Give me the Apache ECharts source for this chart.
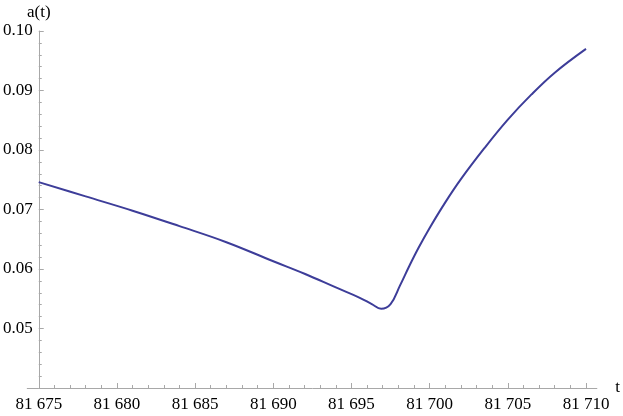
<!DOCTYPE html>
<html>
<head>
<meta charset="utf-8">
<script src="https://cdn.jsdelivr.net/npm/echarts@6/dist/echarts.min.js"></script>
<style>
  html, body { margin: 0; padding: 0; background: #fff; }
  #main { width: 623px; height: 416px; }
</style>
</head>
<body>
<div id="main"></div>
<script>
// t values and a(t)
var tValues = [81675, 81678, 81681, 81684, 81687, 81690, 81692, 81694, 81695.5, 81696.3,
               81696.9, 81697.5, 81698.1, 81698.7, 81699.3, 81700, 81701, 81702, 81703.5,
               81705, 81706.5, 81708, 81710];
var aValues = [0.0746, 0.0722, 0.0698, 0.0672, 0.0645, 0.0613, 0.0592, 0.0569, 0.0552, 0.0541,
               0.0533, 0.0541, 0.0572, 0.0605, 0.0636, 0.0669, 0.0712, 0.0751, 0.0803,
               0.0851, 0.0893, 0.0930, 0.0970];

var xRange = [81675, 81710];
var yRange = [0.04, 0.10];
var axisStub = [81674.24, 81710.72]; // axis line runs a bit past the ticks

var axisGray = '#a8a8a8';
var font = "'Liberation Serif', 'DejaVu Serif', serif";

var chart = echarts.init(document.getElementById('main'));

var points = [];
for (var i = 0; i < tValues.length; i++) {
    points.push([tValues[i], aValues[i]]);
}

function groupDigits(v) {
    return String(v).replace(/(\d+)(\d{3})$/, '$1 $2');
}

var option = {
    animation: false,
    textStyle: { fontFamily: font },
    grid: { left: 38, right: 31, top: 31, bottom: 28 },
    xAxis: {
        type: 'value',
        min: xRange[0],
        max: xRange[1],
        interval: 5,
        name: 't',
        nameLocation: 'end',
        nameGap: 24,
        nameTextStyle: { fontFamily: font, fontSize: 17, color: '#000', padding: [6, 0, 0, 0] },
        axisLine: { onZero: false, lineStyle: { color: axisGray, width: 1 } },
        axisTick: { inside: true, length: 5, lineStyle: { color: axisGray } },
        minorTick: { show: true, splitNumber: 5, length: 3, lineStyle: { color: axisGray } },
        splitLine: { show: false },
        axisLabel: { fontFamily: font, fontSize: 17, color: '#000', margin: 8, formatter: groupDigits }
    },
    yAxis: {
        type: 'value',
        min: yRange[0],
        max: yRange[1],
        interval: 0.01,
        name: 'a(t)',
        nameLocation: 'end',
        nameGap: 10,
        nameTextStyle: { fontFamily: font, fontSize: 17, color: '#000', align: 'center' },
        axisLine: { show: true, onZero: false, lineStyle: { color: axisGray, width: 1 } },
        axisTick: { show: true, inside: true, length: 5, lineStyle: { color: axisGray } },
        minorTick: { show: true, splitNumber: 5, length: 3, lineStyle: { color: axisGray } },
        splitLine: { show: false },
        axisLabel: {
            fontFamily: font, fontSize: 17, color: '#000', margin: 6, showMinLabel: false,
            formatter: function (v) { return v.toFixed(2); }
        }
    },
    series: [{
        type: 'line',
        data: points,
        showSymbol: false,
        smooth: 0.4,
        lineStyle: { color: '#3d3d99', width: 2 }
    }]
};
chart.setOption(option);

// extend the x axis line past the tick range, as in the original
var p0 = chart.convertToPixel({ gridIndex: 0 }, [axisStub[0], yRange[0]]);
var p1 = chart.convertToPixel({ gridIndex: 0 }, [xRange[0], yRange[0]]);
var p2 = chart.convertToPixel({ gridIndex: 0 }, [xRange[1], yRange[0]]);
var p3 = chart.convertToPixel({ gridIndex: 0 }, [axisStub[1], yRange[0]]);
chart.setOption({
    graphic: [
        { type: 'line', shape: { x1: p0[0], y1: p0[1] + 0.5, x2: p1[0], y2: p1[1] + 0.5 }, style: { stroke: axisGray, lineWidth: 1 } },
        { type: 'line', shape: { x1: p2[0], y1: p2[1] + 0.5, x2: p3[0], y2: p3[1] + 0.5 }, style: { stroke: axisGray, lineWidth: 1 } }
    ]
});
</script>
</body>
</html>
